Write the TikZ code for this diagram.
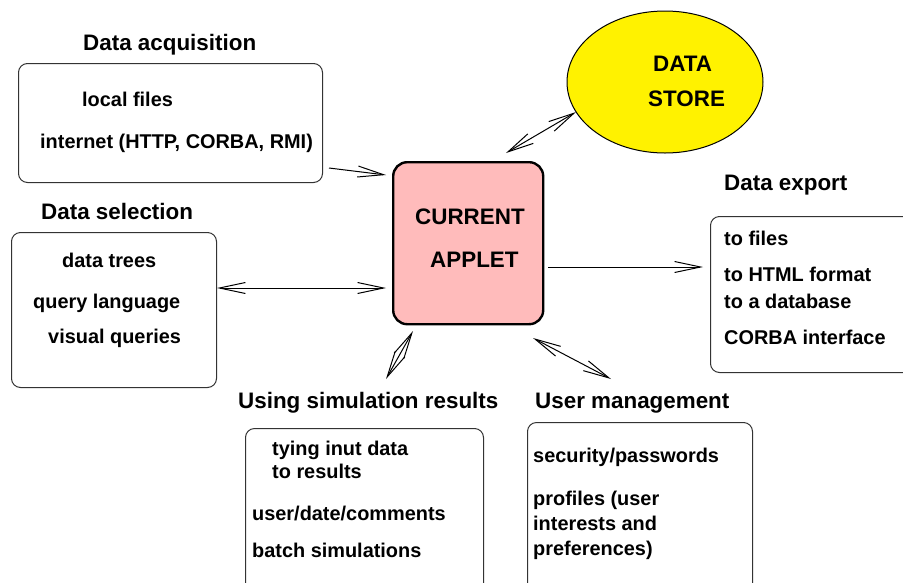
\documentclass[tikz,border=0pt]{standalone}
\usepackage{fontspec}
\setmainfont{Liberation Sans}
\usetikzlibrary{arrows.meta,shapes.geometric}
\definecolor{appletpink}{RGB}{255,187,187}
\begin{document}
\begin{tikzpicture}[
  x=1pt, y=-1pt,
  panel/.style={draw=black!80, line width=1pt, rounded corners=9pt, anchor=north west, inner sep=0pt},
  item/.style={anchor=base west, inner sep=0pt, font=\fontsize{19.9}{23}\selectfont\bfseries},
  head/.style={anchor=base west, inner sep=0pt, font=\fontsize{22.4}{26}\selectfont\bfseries},
  link/.style={line width=1pt, >={Straight Barb[length=26pt,width=11pt]}}
]
\useasboundingbox (0,0) rectangle (903,582);
\clip (0,0) rectangle (903,582);

% --- panels ---
\node[panel, minimum width=304pt, minimum height=119pt] (acq) at (18,63) {};
\node[panel, minimum width=205pt, minimum height=155pt] (sel) at (11,232) {};
\node[panel, minimum width=215pt, minimum height=156pt] (exp) at (710,216) {};
\node[panel, minimum width=238pt, minimum height=180pt] (sim) at (245,428) {};
\node[panel, minimum width=225pt, minimum height=180pt] (usr) at (527,422) {};

% --- central applet ---
\node[draw=black, line width=2.4pt, fill=appletpink, rounded corners=14pt,
      anchor=north west, inner sep=0pt, minimum width=150pt, minimum height=162pt] (app) at (392,161) {};
\node[head] (appA) at (415,224) {CURRENT};
\node[head] (appB) at (430,267) {APPLET};

% --- data store ---
\node[draw=black, line width=1pt, fill=yellow, ellipse, inner sep=0pt,
      minimum width=196pt, minimum height=142pt] (store) at (665,82) {};
\node[head] (stA) at (653,71) {DATA};
\node[head] (stB) at (648,106) {STORE};

% --- headings ---
\node[head] (hacq) at (83,50) {Data acquisition};
\node[head] (hsel) at (41,219) {Data selection};
\node[head] (hexp) at (724,190) {Data export};
\node[head] (hsim) at (238,408) {Using simulation results};
\node[head] (husr) at (535,408) {User management};

% --- panel contents ---
\node[item] (t1) at (82,106) {local files};
\node[item] (t2) at (40,148) {internet (HTTP, CORBA, RMI)};

\node[item] (t3) at (62,267) {data trees};
\node[item] (t4) at (33,308) {query language};
\node[item] (t5) at (48,343) {visual queries};

\node[item] (t6) at (724,245) {to files};
\node[item] (t7) at (724,281) {to HTML format};
\node[item] (t8) at (724,308) {to a database};
\node[item] (t9) at (724,344) {CORBA interface};

\node[item] (t10) at (272,455) {tying inut data};
\node[item] (t11) at (272,478) {to results};
\node[item] (t12) at (252,520) {user/date/comments};
\node[item] (t13) at (252,557) {batch simulations};

\node[item] (t14) at (533,462) {security/passwords};
\node[item] (t15) at (533,505) {profiles (user};
\node[item] (t16) at (533,530) {interests and};
\node[item] (t17) at (533,555) {preferences)};

% --- connector end points ---
\coordinate (acqE) at (329,168);  \coordinate (appW1) at (386,175);
\coordinate (appN) at (506,153);  \coordinate (storeSW) at (576,112);
\coordinate (selE) at (217,288);  \coordinate (appW2) at (386,288);
\coordinate (appE) at (548,267);  \coordinate (expW) at (703,267);
\coordinate (appSE) at (533,338); \coordinate (usrN) at (611,379);
\coordinate (appS) at (413,331);  \coordinate (simN) at (386,379);

% --- connectors ---
\draw[link,->] (acqE) -- (appW1);
\draw[link,<->] (appN) -- (storeSW);
\draw[link,<->] (selE) -- (appW2);
\draw[link,->] (appE) -- (expW);
\draw[link,<->] (appSE) -- (usrN);
\draw[link,<->] (appS) -- (simN);
\end{tikzpicture}
\end{document}
